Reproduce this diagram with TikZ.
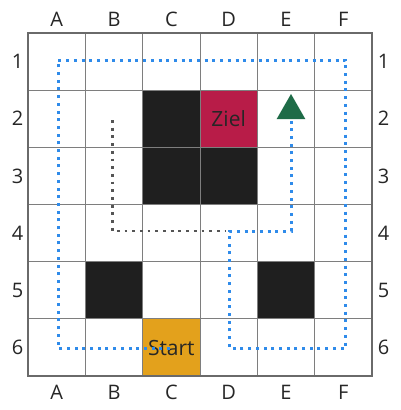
\documentclass[tikz,border=0pt]{standalone}
\usepackage{fontspec}
\setmainfont{Open Sans}
\definecolor{wall}{HTML}{1F1F1F}
\definecolor{goal}{HTML}{B81C48}
\definecolor{startc}{HTML}{E3A11C}
\definecolor{pathblue}{HTML}{2F8BEA}
\definecolor{pathgray}{HTML}{555555}
\definecolor{gridc}{HTML}{7E7E7E}
\definecolor{borderc}{HTML}{6A6A6A}
\definecolor{arrowg}{HTML}{1E6B47}
\begin{document}
\begin{tikzpicture}[x=1pt,y=-1pt,
  lbl/.style={font=\fontsize{20}{20}\selectfont, text=black!85, inner sep=0pt},
  celltxt/.style={font=\fontsize{21}{21}\selectfont, text=black!85, inner sep=0pt},
  cellbox/.style={minimum width=57.33pt, minimum height=57.17pt, inner sep=0pt, draw=none},
  bluepath/.style={pathblue, line width=3pt, dash pattern=on 3pt off 4.7pt},
  graypath/.style={pathgray, line width=2.8pt, dash pattern=on 2.8pt off 4.9pt},
  gridline/.style={gridc, line width=1pt},
  outer/.style={borderc, line width=2pt}]
\useasboundingbox (0,0) rectangle (400,410);
\fill[white] (0,0) rectangle (400,410);
% cell fills
\node[cellbox, fill=wall] (c2) at (171.33,118.75) {};
\node[cellbox, fill=wall] (c3) at (171.33,175.92) {};
\node[cellbox, fill=wall] (d3) at (228.67,175.92) {};
\node[cellbox, fill=goal] (d2) at (228.67,118.75) {};
\node[cellbox, fill=wall] (b5) at (114,290.25) {};
\node[cellbox, fill=wall] (e5) at (286,290.25) {};
\node[cellbox, fill=startc] (c6) at (171.33,347.42) {};
% grid
\foreach \x in {85.33,142.67,200,257.33,314.67} \draw[gridline] (\x,33) -- (\x,376);
\foreach \y in {90.17,147.33,204.5,261.67,318.83} \draw[gridline] (28,\y) -- (372,\y);
\draw[outer] (28,33) rectangle (372,376);
% texts
\node[celltxt] (ziel) at (228.67,118.75) {Ziel};
\node[celltxt] (start) at (171.33,348) {Start};
% paths
\coordinate (p0) at (170,348);
\coordinate (p1) at (58,348);
\coordinate (p2) at (58,60);
\coordinate (p3) at (345.7,60);
\coordinate (p4) at (345.7,348);
\coordinate (p5) at (229.3,348);
\coordinate (p6) at (229.3,231);
\coordinate (p7) at (291,231);
\coordinate (p8) at (291,120);
\coordinate (g0) at (112.3,120);
\coordinate (g1) at (112.3,231);
\coordinate (g2) at (226,231);
\draw[graypath] (g0) -- (g1) -- (g2);
\draw[bluepath] (p0) -- (p1) -- (p2) -- (p3) -- (p4) -- (p5) -- (p6) -- (p7) -- (p8);
% arrow head
\fill[arrowg] (276.7,119) -- (291,94) -- (305.3,119) -- cycle;
% labels
\foreach \l [count=\i from 0] in {A,B,C,D,E,F} {
  \node[lbl] (top\l) at ({56.67+57.33*\i},19.5) {\l};
  \node[lbl] (bot\l) at ({56.67+57.33*\i},392) {\l};
}
\foreach \r [count=\j from 0] in {1,2,3,4,5,6} {
  \node[lbl] (left\r) at (17.5,{61.58+57.17*\j}) {\r};
  \node[lbl] (right\r) at (383.5,{61.58+57.17*\j}) {\r};
}
\end{tikzpicture}
\end{document}
